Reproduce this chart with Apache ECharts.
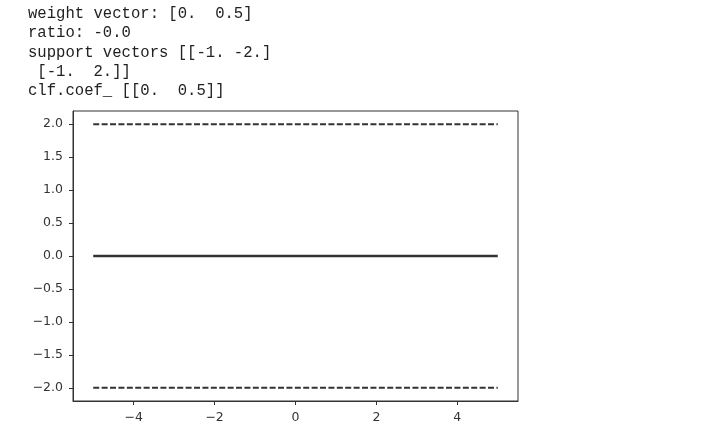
<!DOCTYPE html>
<html>
<head>
<meta charset="utf-8">
<script src="https://cdn.jsdelivr.net/npm/echarts@6/dist/echarts.min.js"></script>
<style>
html,body{margin:0;padding:0;background:#fff;}
#chart{width:701px;height:440px;}
</style>
</head>
<body>
<div id="chart"></div>
<script>
// Printed output lines
var outputLines = [
  "weight vector: [0.  0.5]",
  "ratio: -0.0",
  "support vectors [[-1. -2.]",
  " [-1.  2.]]",
  "clf.coef_ [[0.  0.5]]"
];
// Line data
var xs = [-5, 5];
var hyperplane = [0, 0];
var marginUpper = [2, 2];
var marginLower = [-2, -2];
// Tick labels
var xTicks = [-4, -2, 0, 2, 4];
var yTicks = [-2.0, -1.5, -1.0, -0.5, 0.0, 0.5, 1.0, 1.5, 2.0];

function pairs(x, y) { return x.map(function (v, i) { return [v, y[i]]; }); }
function fmtNum(v, d) {
  var s = Math.abs(v).toFixed(d);
  return (v < 0 ? '\u2212' : '') + s;
}

var chart = echarts.init(document.getElementById('chart'), null, {renderer: 'canvas'});

var graphics = outputLines.map(function (t, i) {
  return {
    type: 'text',
    left: 28,
    top: 6 + i * 19.3,
    style: {
      text: t,
      font: '15.6px "Liberation Mono", "DejaVu Sans Mono", monospace',
      fill: '#222'
    }
  };
});

var dashStyle = [6, 2.4];

chart.setOption({
  animation: false,
  backgroundColor: '#fff',
  graphic: graphics,
  grid: {
    left: 73, right: 183, top: 111, bottom: 39,
    show: true, borderColor: '#333', borderWidth: 1, backgroundColor: 'transparent'
  },
  xAxis: {
    type: 'value',
    min: -5.5, max: 5.5,
    splitLine: {show: false},
    axisLine: {show: true, onZero: false, lineStyle: {color: '#333', width: 1}},
    axisTick: {show: true, inside: false, length: 4, lineStyle: {color: '#333'}, customValues: xTicks},
    axisLabel: {
      show: true, margin: 10, color: '#333',
      fontFamily: '"DejaVu Sans"', fontSize: 12.5,
      customValues: xTicks,
      formatter: function (v) { return fmtNum(v, 0); }
    }
  },
  yAxis: {
    type: 'value',
    min: -2.2, max: 2.2,
    splitLine: {show: false},
    axisLine: {show: true, onZero: false, lineStyle: {color: '#333', width: 1}},
    axisTick: {show: true, inside: false, length: 4, lineStyle: {color: '#333'}, customValues: yTicks},
    axisLabel: {
      show: true, margin: 10, color: '#333',
      fontFamily: '"DejaVu Sans"', fontSize: 12.5,
      customValues: yTicks,
      formatter: function (v) { return fmtNum(v, 1); }
    }
  },
  series: [
    {
      type: 'line', data: pairs(xs, hyperplane), showSymbol: false, symbol: 'none',
      lineStyle: {color: '#333', width: 2.5, type: 'solid'}
    },
    {
      type: 'line', data: pairs(xs, marginUpper), showSymbol: false, symbol: 'none',
      lineStyle: {color: '#333', width: 2, type: dashStyle}
    },
    {
      type: 'line', data: pairs(xs, marginLower), showSymbol: false, symbol: 'none',
      lineStyle: {color: '#333', width: 2, type: dashStyle}
    }
  ]
});
</script>
</body>
</html>
